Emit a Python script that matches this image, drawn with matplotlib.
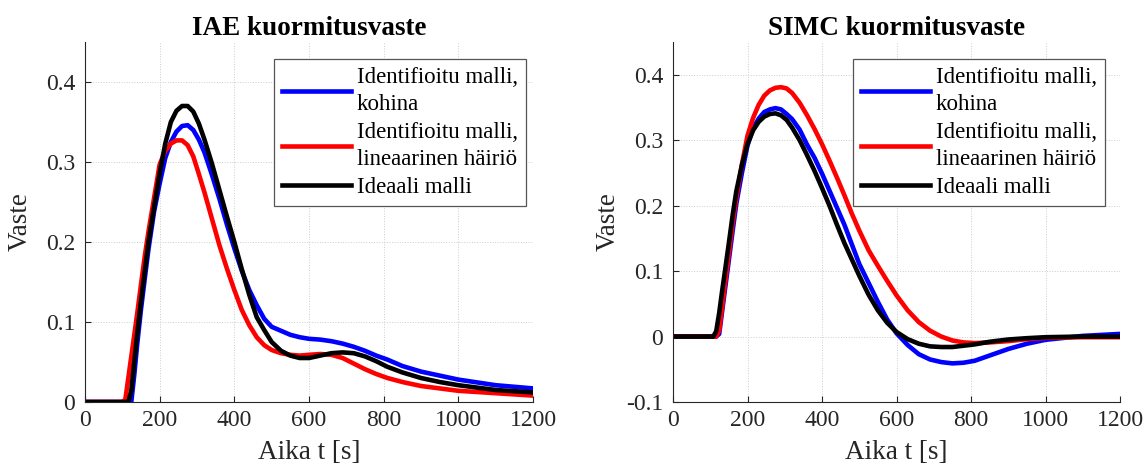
import matplotlib
matplotlib.use("Agg")
import matplotlib.pyplot as plt

# Time grid [s] for the IAE responses
t_iae = [0, 100, 108, 116, 124, 132, 140, 150, 160, 170, 185, 200, 215, 230, 245,
         260, 275, 290, 305, 320, 340, 360, 380, 400, 420, 440, 460, 480, 500,
         525, 550, 575, 600, 630, 660, 690, 720, 750, 780, 810, 850, 900, 950,
         1000, 1100, 1200]

iae_noise = [0, 0, 0, 0, 0, 0.034, 0.073, 0.116, 0.154, 0.191, 0.238, 0.273, 0.305,
             0.325, 0.338, 0.345, 0.346, 0.340, 0.328, 0.312, 0.284, 0.254, 0.222,
             0.192, 0.164, 0.140, 0.121, 0.104, 0.094, 0.089, 0.084, 0.081, 0.079,
             0.078, 0.076, 0.073, 0.069, 0.064, 0.058, 0.053, 0.045, 0.038, 0.033,
             0.028, 0.021, 0.017]

iae_linear = [0, 0, 0.003, 0.030, 0.057, 0.084, 0.111, 0.147, 0.182, 0.213, 0.255,
              0.297, 0.314, 0.323, 0.327, 0.327, 0.321, 0.307, 0.285, 0.262, 0.229,
              0.196, 0.167, 0.140, 0.115, 0.096, 0.081, 0.071, 0.065, 0.061, 0.059,
              0.058, 0.059, 0.060, 0.059, 0.055, 0.048, 0.041, 0.035, 0.030, 0.025,
              0.020, 0.017, 0.014, 0.011, 0.008]

iae_ideal = [0, 0, 0, 0, 0.014, 0.050, 0.086, 0.126, 0.163, 0.200, 0.243, 0.286,
             0.323, 0.350, 0.364, 0.370, 0.370, 0.363, 0.348, 0.328, 0.298, 0.265,
             0.232, 0.200, 0.166, 0.134, 0.106, 0.090, 0.075, 0.064, 0.058, 0.055,
             0.055, 0.058, 0.061, 0.062, 0.061, 0.057, 0.051, 0.044, 0.037, 0.030,
             0.025, 0.021, 0.015, 0.012]

# Time grid [s] for the SIMC responses
t_simc = [0, 100, 108, 116, 124, 132, 140, 150, 160, 170, 185, 200, 215, 230, 245,
          260, 275, 290, 305, 320, 340, 360, 380, 400, 420, 440, 460, 480, 500,
          525, 550, 575, 600, 630, 660, 690, 720, 750, 780, 810, 850, 900, 950,
          1000, 1100, 1200]

simc_noise = [0, 0, 0, 0, 0.004, 0.039, 0.074, 0.117, 0.161, 0.203, 0.250, 0.292,
              0.318, 0.333, 0.343, 0.347, 0.349, 0.347, 0.340, 0.332, 0.316, 0.293,
              0.273, 0.249, 0.223, 0.197, 0.171, 0.141, 0.111, 0.082, 0.053, 0.026,
              0.005, -0.013, -0.027, -0.035, -0.039, -0.041, -0.040, -0.037, -0.029,
              -0.019, -0.011, -0.005, 0.001, 0.004]

simc_linear = [0, 0, 0, 0, 0.009, 0.045, 0.082, 0.127, 0.172, 0.212, 0.263, 0.307,
               0.334, 0.354, 0.368, 0.376, 0.380, 0.381, 0.379, 0.372, 0.357, 0.338,
               0.317, 0.294, 0.269, 0.243, 0.216, 0.188, 0.162, 0.132, 0.108, 0.085,
               0.063, 0.040, 0.022, 0.009, 0.000, -0.006, -0.009, -0.010, -0.009,
               -0.007, -0.004, -0.002, -0.001, -0.001]

simc_ideal = [0, 0, 0, 0.008, 0.036, 0.070, 0.102, 0.143, 0.185, 0.222, 0.262,
              0.294, 0.315, 0.328, 0.336, 0.340, 0.341, 0.338, 0.331, 0.319, 0.300,
              0.277, 0.253, 0.227, 0.200, 0.171, 0.143, 0.118, 0.093, 0.064, 0.040,
              0.021, 0.007, -0.004, -0.011, -0.015, -0.016, -0.016, -0.014, -0.012,
              -0.008, -0.0045, -0.0025, -0.001, 0.0, 0.0]

labels = ["Identifioitu malli,\nkohina",
          "Identifioitu malli,\nlineaarinen häiriö",
          "Ideaali malli"]
colors = ["#0000FF", "#FF0000", "#000000"]

titles = ["IAE kuormitusvaste", "SIMC kuormitusvaste"]
xticks = [0, 200, 400, 600, 800, 1000, 1200]
yticks_iae = [0, 0.1, 0.2, 0.3, 0.4]
yticks_simc = [-0.1, 0, 0.1, 0.2, 0.3, 0.4]

plt.rcParams["font.family"] = ["Liberation Serif", "DejaVu Serif"]

fig = plt.figure(figsize=(11.48, 4.72), dpi=100)
ax1 = fig.add_axes([85 / 1148, 70 / 472, 448 / 1148, 360 / 472])
ax2 = fig.add_axes([673 / 1148, 70 / 472, 447 / 1148, 360 / 472])

axis_col = "#262626"

def style(ax, title, yticks, ylim, legend_anchor):
    ax.set_xlim(0, 1200)
    ax.set_ylim(*ylim)
    ax.set_xticks(xticks)
    ax.set_xticklabels([str(v) for v in xticks])
    ax.set_yticks(yticks)
    ax.set_yticklabels([("%g" % v) for v in yticks])
    ax.spines["top"].set_visible(False)
    ax.spines["right"].set_visible(False)
    for s in ("left", "bottom"):
        ax.spines[s].set_color(axis_col)
        ax.spines[s].set_linewidth(0.8)
    ax.tick_params(direction="in", length=4, width=0.8, color=axis_col,
                   labelsize=17, labelcolor=axis_col)
    ax.tick_params(axis="y", pad=7)
    ax.tick_params(axis="x", pad=6)
    ax.grid(True, linestyle=":", color="#cccccc", linewidth=0.7)
    ax.set_axisbelow(True)
    ax.set_title(title, fontsize=19.5, fontweight="bold", pad=5)
    ax.set_xlabel("Aika t [s]", fontsize=19.5, color=axis_col, labelpad=6)
    ax.set_ylabel("Vaste", fontsize=19.5, color=axis_col)
    ax.yaxis.set_label_coords(-0.116, 0.5)
    leg = ax.legend(loc="upper right", bbox_to_anchor=legend_anchor,
                    borderaxespad=0, fontsize=16.5, fancybox=False, framealpha=1,
                    edgecolor="#555555", handlelength=3.0, handletextpad=0.25,
                    labelspacing=0.3, borderpad=0.35)
    leg.get_frame().set_linewidth(0.9)
    for txt in leg.get_texts():
        txt.set_linespacing(1.38)

for lab, col, y in zip(labels, colors, [iae_noise, iae_linear, iae_ideal]):
    ax1.plot(t_iae, y, color=col, linewidth=3.3, label=lab, solid_joinstyle="round")
for lab, col, y in zip(labels, colors, [simc_noise, simc_linear, simc_ideal]):
    ax2.plot(t_simc, y, color=col, linewidth=3.3, label=lab, solid_joinstyle="round")

style(ax1, titles[0], yticks_iae, (0, 0.45), (0.984, 0.954))
style(ax2, titles[1], yticks_simc, (-0.1, 0.45), (0.966, 0.953))

fig.savefig("out.png", dpi=100)
